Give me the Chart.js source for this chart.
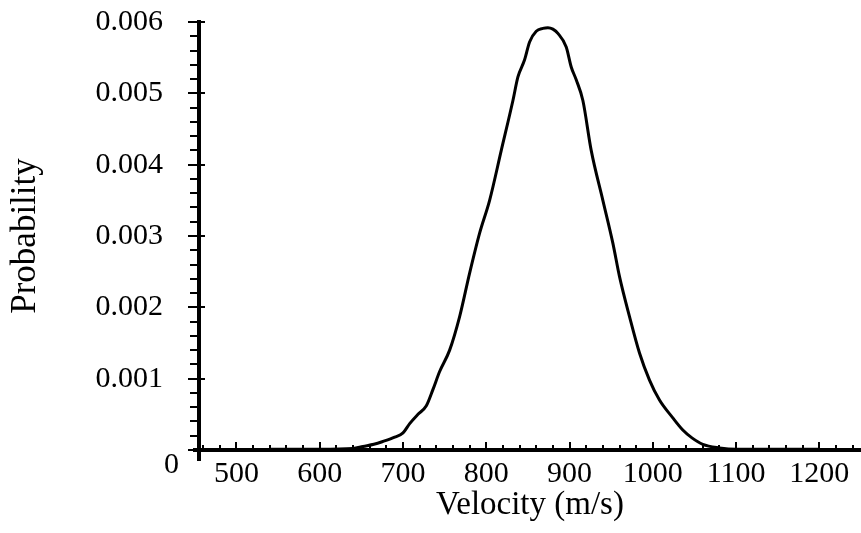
<!DOCTYPE html>
<html>
<head>
<meta charset="utf-8">
<script src="https://cdn.jsdelivr.net/npm/chart.js@4"></script>
<style>
  html, body { margin: 0; padding: 0; background: #fff; }
  #chart { display: block; }
</style>
</head>
<body>
<canvas id="chart" width="861" height="533"></canvas>
<script>
// values
const velocity = [540, 600, 640, 652, 665, 676, 690, 700, 708, 718, 728, 736, 744, 756, 768, 780, 792, 804, 818, 832, 838, 846, 852, 860, 868, 874, 880, 886, 896, 902, 908, 916, 926, 940, 952, 960, 972, 984, 996, 1008, 1024, 1036, 1047, 1060, 1080, 1100, 1150, 1200];
const probability = [0.00001, 0.00001, 0.00002, 0.00005, 0.00008, 0.00012, 0.00018, 0.00024, 0.00037, 0.0005, 0.00062, 0.00085, 0.0011, 0.0014, 0.00187, 0.00248, 0.00304, 0.0035, 0.0042, 0.0049, 0.00523, 0.00547, 0.00572, 0.00587, 0.00591, 0.00592, 0.0059, 0.00584, 0.00565, 0.00537, 0.00519, 0.0049, 0.0042, 0.0035, 0.0029, 0.00243, 0.00187, 0.00136, 0.00098, 0.0007, 0.00045, 0.00028, 0.00017, 0.00008, 0.00003, 0.00001, 0.00001, 0.00001];
const xLabels = [500, 600, 700, 800, 900, 1000, 1100, 1200];
const yLabels = [0.001, 0.002, 0.003, 0.004, 0.005, 0.006];

const serif = "'Liberation Serif', 'DejaVu Serif', serif";

const isMajorY = v => Math.abs(v / 0.001 - Math.round(v / 0.001)) < 1e-6;

// tick marks: y ticks point out and the major ones cross the axis, x ticks point up into the plot
const tickMarks = {
  id: "tickMarks",
  afterDraw(chart) {
    const { ctx, chartArea } = chart;
    const x = chart.scales.x, y = chart.scales.y;
    ctx.save();
    ctx.strokeStyle = "#000";
    ctx.lineWidth = 2;
    y.ticks.forEach(t => {
      const py = Math.round(y.getPixelForValue(t.value));
      const major = isMajorY(t.value);
      ctx.beginPath();
      ctx.moveTo(chartArea.left - (major ? 11 : 9), py);
      ctx.lineTo(chartArea.left + (major ? 6 : 0), py);
      ctx.stroke();
    });
    x.ticks.forEach(t => {
      const px = Math.round(x.getPixelForValue(t.value));
      const major = t.value % 100 === 0;
      ctx.beginPath();
      ctx.moveTo(px, chartArea.bottom);
      ctx.lineTo(px, chartArea.bottom - (major ? 8 : 5));
      ctx.stroke();
    });
    // axes run a little past the corner
    ctx.lineWidth = 4;
    ctx.beginPath();
    ctx.moveTo(chartArea.left, chartArea.bottom);
    ctx.lineTo(chartArea.left, chartArea.bottom + 11);
    ctx.moveTo(chartArea.left - 6, chartArea.bottom);
    ctx.lineTo(chartArea.left, chartArea.bottom);
    ctx.stroke();
    // the zero label sits below the axis in the original
    ctx.fillStyle = "#000";
    ctx.font = "30px " + serif;
    ctx.textAlign = "right";
    ctx.textBaseline = "middle";
    ctx.fillText("0", chartArea.left - 20, y.getPixelForValue(0) + 15);
    ctx.restore();
  }
};

const ctx = document.getElementById("chart");
const chart = new Chart(ctx, {
  type: "scatter",
  data: {
    datasets: [{
      data: velocity.map((v, i) => ({ x: v, y: probability[i] })),
      showLine: true,
      borderColor: "#000",
      borderWidth: 3,
      pointRadius: 0,
      cubicInterpolationMode: "monotone",
      fill: false
    }]
  },
  options: {
    responsive: false,
    animation: false,
    layout: { padding: { top: 0, right: 0, left: 0, bottom: 0 } },
    plugins: { legend: { display: false }, tooltip: { enabled: false } },
    scales: {
      x: {
        type: "linear",
        min: 455,
        max: 1250,
        grid: { display: false, drawTicks: false },
        border: { display: true, color: "#000", width: 4 },
        ticks: {
          stepSize: 20,
          includeBounds: false,
          autoSkip: false,
          maxRotation: 0,
          padding: 6,
          color: "#000",
          font: { family: serif, size: 30 },
          callback: v => xLabels.includes(v) ? String(v) : ""
        },
        title: {
          display: true,
          text: "Velocity (m/s)",
          color: "#000",
          font: { family: serif, size: 33 },
          padding: { top: 0, bottom: 8 }
        },
        afterFit: s => { s.height = 83; }
      },
      y: {
        min: 0,
        max: 0.006,
        // invisible tick marks keep the labels clear of the axis
        grid: { display: true, drawOnChartArea: false, drawTicks: true, tickLength: 32, color: "rgba(0,0,0,0)" },
        border: { display: true, color: "#000", width: 4 },
        ticks: {
          stepSize: 0.0002,
          autoSkip: false,
          padding: 4,
          color: "#000",
          font: { family: serif, size: 30 },
          callback: v => {
            const hit = yLabels.find(l => Math.abs(l - v) < 1e-9);
            return hit ? hit.toFixed(3) : "";
          }
        },
        title: {
          display: true,
          text: "Probability",
          color: "#000",
          font: { family: serif, size: 35 },
          padding: { top: 5, bottom: 0 }
        },
        afterFit: s => { s.width = 199; }
      }
    }
  },
  plugins: [tickMarks]
});
</script>
</body>
</html>
